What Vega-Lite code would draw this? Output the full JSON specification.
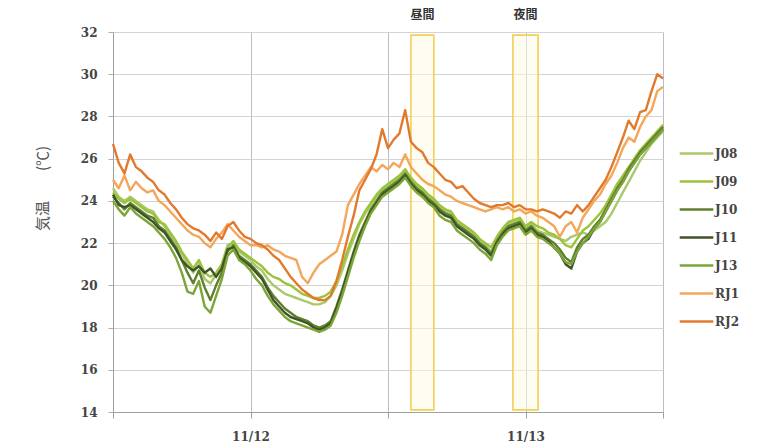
{
  "$schema": "https://vega.github.io/schema/vega-lite/v6.json",
  "width": 550,
  "height": 380,
  "autosize": {"type": "none"},
  "padding": {"left": 113, "top": 32, "right": 112, "bottom": 32},
  "background": "white",
  "config": {
    "view": {"stroke": null},
    "font": "DejaVu Serif",
    "axisX": {
      "grid": true, "gridColor": "#b9bccb", "gridWidth": 1,
      "domainColor": "#a0a0a0", "tickColor": "#a0a0a0", "tickSize": 6,
      "labelFont": "DejaVu Serif", "labelFontSize": 12, "labelFontWeight": "bold", "labelColor": "#444",
      "labelPadding": 13
    },
    "axisY": {
      "titleFont": "Noto Sans CJK JP", "titleFontSize": 15, "titleFontWeight": "normal", "titleColor": "#555",
      "titleX": -63, "titleY": 156,
      "grid": true, "gridColor": "#d3d3d3", "gridWidth": 1,
      "domainColor": "#a0a0a0", "tickColor": "#b0b0b0", "tickSize": 5,
      "labelFont": "DejaVu Serif", "labelFontSize": 12, "labelFontWeight": "bold", "labelColor": "#444",
      "labelPadding": 11
    }
  },
  "layer": [
    {
      "data": {"values": [
        {"start": 26, "end": 28, "mid": 27, "label": "昼間"},
        {"start": 34.9, "end": 37.1, "mid": 36, "label": "夜間"}
      ]},
      "mark": {"type": "rect", "fill": "#fffbe6", "fillOpacity": 0.5, "stroke": "#f3cf55", "strokeWidth": 1.6},
      "encoding": {
        "x": {"field": "start", "type": "quantitative", "title": null, "scale": {"domain": [0, 48], "nice": false, "zero": false},
              "axis": {"values": [0, 12, 24, 36, 48], "labelExpr": "datum.value == 12 ? '11/12' : (datum.value == 36 ? '11/13' : '')"}},
        "x2": {"field": "end"},
        "y": {"datum": 31.85, "type": "quantitative", "title": "気温　　(℃)", "scale": {"domain": [14, 32], "nice": false, "zero": false},
              "axis": {"values": [14, 16, 18, 20, 22, 24, 26, 28, 30, 32]}},
        "y2": {"datum": 14.1}
      }
    },
    {
      "data": {"values": [
        {"start": 26, "end": 28, "mid": 27, "label": "昼間"},
        {"start": 34.9, "end": 37.1, "mid": 36, "label": "夜間"}
      ]},
      "mark": {"type": "text", "font": "Noto Sans CJK JP", "fontSize": 12, "fontWeight": "bold", "color": "#333", "dy": -17, "baseline": "middle"},
      "encoding": {
        "x": {"field": "mid", "type": "quantitative", "title": null,
              "axis": {"values": [0, 12, 24, 36, 48], "labelExpr": "datum.value == 12 ? '11/12' : (datum.value == 36 ? '11/13' : '')"}},
        "y": {"datum": 32, "type": "quantitative", "title": "気温　　(℃)",
              "axis": {"values": [14, 16, 18, 20, 22, 24, 26, 28, 30, 32]}},
        "text": {"field": "label"}
      }
    },
    {
      "data": {"values": [
{"h":0,"s":"J08","v":24.6},{"h":0.5,"s":"J08","v":24.2},{"h":1,"s":"J08","v":24.0},{"h":1.5,"s":"J08","v":24.2},{"h":2,"s":"J08","v":24.0},{"h":2.5,"s":"J08","v":23.8},{"h":3,"s":"J08","v":23.6},{"h":3.5,"s":"J08","v":23.5},{"h":4,"s":"J08","v":23.1},{"h":4.5,"s":"J08","v":22.8},
{"h":5,"s":"J08","v":22.4},{"h":5.5,"s":"J08","v":22.0},{"h":6,"s":"J08","v":21.5},{"h":6.5,"s":"J08","v":21.0},{"h":7,"s":"J08","v":20.6},{"h":7.5,"s":"J08","v":21.0},{"h":8,"s":"J08","v":20.3},{"h":8.5,"s":"J08","v":20.1},{"h":9,"s":"J08","v":20.5},{"h":9.5,"s":"J08","v":21.0},
{"h":10,"s":"J08","v":21.9},{"h":10.5,"s":"J08","v":22.0},{"h":11,"s":"J08","v":21.6},{"h":11.5,"s":"J08","v":21.4},{"h":12,"s":"J08","v":21.2},{"h":12.5,"s":"J08","v":20.9},{"h":13,"s":"J08","v":20.7},{"h":13.5,"s":"J08","v":20.3},{"h":14,"s":"J08","v":20.0},{"h":14.5,"s":"J08","v":19.8},
{"h":15,"s":"J08","v":19.6},{"h":15.5,"s":"J08","v":19.5},{"h":16,"s":"J08","v":19.4},{"h":16.5,"s":"J08","v":19.3},{"h":17,"s":"J08","v":19.2},{"h":17.5,"s":"J08","v":19.1},{"h":18,"s":"J08","v":19.1},{"h":18.5,"s":"J08","v":19.2},{"h":19,"s":"J08","v":19.5},{"h":19.5,"s":"J08","v":20.0},
{"h":20,"s":"J08","v":20.7},{"h":20.5,"s":"J08","v":21.5},{"h":21,"s":"J08","v":22.2},{"h":21.5,"s":"J08","v":22.9},{"h":22,"s":"J08","v":23.4},{"h":22.5,"s":"J08","v":23.8},{"h":23,"s":"J08","v":24.2},{"h":23.5,"s":"J08","v":24.5},{"h":24,"s":"J08","v":24.7},{"h":24.5,"s":"J08","v":24.9},
{"h":25,"s":"J08","v":25.1},{"h":25.5,"s":"J08","v":25.4},{"h":26,"s":"J08","v":25.0},{"h":26.5,"s":"J08","v":24.7},{"h":27,"s":"J08","v":24.5},{"h":27.5,"s":"J08","v":24.2},{"h":28,"s":"J08","v":24.0},{"h":28.5,"s":"J08","v":23.7},{"h":29,"s":"J08","v":23.5},{"h":29.5,"s":"J08","v":23.4},
{"h":30,"s":"J08","v":23.0},{"h":30.5,"s":"J08","v":22.8},{"h":31,"s":"J08","v":22.6},{"h":31.5,"s":"J08","v":22.4},{"h":32,"s":"J08","v":22.1},{"h":32.5,"s":"J08","v":21.9},{"h":33,"s":"J08","v":21.6},{"h":33.5,"s":"J08","v":22.2},{"h":34,"s":"J08","v":22.6},{"h":34.5,"s":"J08","v":22.9},
{"h":35,"s":"J08","v":23.0},{"h":35.5,"s":"J08","v":23.1},{"h":36,"s":"J08","v":22.7},{"h":36.5,"s":"J08","v":22.9},{"h":37,"s":"J08","v":22.6},{"h":37.5,"s":"J08","v":22.5},{"h":38,"s":"J08","v":22.4},{"h":38.5,"s":"J08","v":22.3},{"h":39,"s":"J08","v":22.2},{"h":39.5,"s":"J08","v":22.1},
{"h":40,"s":"J08","v":22.3},{"h":40.5,"s":"J08","v":22.4},{"h":41,"s":"J08","v":22.5},{"h":41.5,"s":"J08","v":22.4},{"h":42,"s":"J08","v":22.6},{"h":42.5,"s":"J08","v":22.8},{"h":43,"s":"J08","v":23.0},{"h":43.5,"s":"J08","v":23.4},{"h":44,"s":"J08","v":23.9},{"h":44.5,"s":"J08","v":24.4},
{"h":45,"s":"J08","v":24.9},{"h":45.5,"s":"J08","v":25.4},{"h":46,"s":"J08","v":25.9},{"h":46.5,"s":"J08","v":26.3},{"h":47,"s":"J08","v":26.7},{"h":47.5,"s":"J08","v":27.0},{"h":48,"s":"J08","v":27.3},

{"h":0,"s":"J09","v":24.4},{"h":0.5,"s":"J09","v":24.1},{"h":1,"s":"J09","v":23.9},{"h":1.5,"s":"J09","v":24.1},{"h":2,"s":"J09","v":23.9},{"h":2.5,"s":"J09","v":23.7},{"h":3,"s":"J09","v":23.5},{"h":3.5,"s":"J09","v":23.4},{"h":4,"s":"J09","v":23.0},{"h":4.5,"s":"J09","v":22.9},
{"h":5,"s":"J09","v":22.5},{"h":5.5,"s":"J09","v":22.1},{"h":6,"s":"J09","v":21.6},{"h":6.5,"s":"J09","v":21.2},{"h":7,"s":"J09","v":20.8},{"h":7.5,"s":"J09","v":21.2},{"h":8,"s":"J09","v":20.6},{"h":8.5,"s":"J09","v":20.4},{"h":9,"s":"J09","v":20.6},{"h":9.5,"s":"J09","v":21.0},
{"h":10,"s":"J09","v":21.8},{"h":10.5,"s":"J09","v":22.1},{"h":11,"s":"J09","v":21.7},{"h":11.5,"s":"J09","v":21.5},{"h":12,"s":"J09","v":21.3},{"h":12.5,"s":"J09","v":21.1},{"h":13,"s":"J09","v":20.9},{"h":13.5,"s":"J09","v":20.6},{"h":14,"s":"J09","v":20.4},{"h":14.5,"s":"J09","v":20.3},
{"h":15,"s":"J09","v":20.1},{"h":15.5,"s":"J09","v":20.0},{"h":16,"s":"J09","v":19.8},{"h":16.5,"s":"J09","v":19.6},{"h":17,"s":"J09","v":19.5},{"h":17.5,"s":"J09","v":19.4},{"h":18,"s":"J09","v":19.4},{"h":18.5,"s":"J09","v":19.5},{"h":19,"s":"J09","v":19.7},{"h":19.5,"s":"J09","v":20.2},
{"h":20,"s":"J09","v":20.9},{"h":20.5,"s":"J09","v":21.7},{"h":21,"s":"J09","v":22.4},{"h":21.5,"s":"J09","v":23.0},{"h":22,"s":"J09","v":23.5},{"h":22.5,"s":"J09","v":23.9},{"h":23,"s":"J09","v":24.3},{"h":23.5,"s":"J09","v":24.6},{"h":24,"s":"J09","v":24.8},{"h":24.5,"s":"J09","v":25.0},
{"h":25,"s":"J09","v":25.2},{"h":25.5,"s":"J09","v":25.5},{"h":26,"s":"J09","v":25.1},{"h":26.5,"s":"J09","v":24.8},{"h":27,"s":"J09","v":24.6},{"h":27.5,"s":"J09","v":24.3},{"h":28,"s":"J09","v":24.1},{"h":28.5,"s":"J09","v":23.8},{"h":29,"s":"J09","v":23.6},{"h":29.5,"s":"J09","v":23.5},
{"h":30,"s":"J09","v":23.1},{"h":30.5,"s":"J09","v":22.9},{"h":31,"s":"J09","v":22.7},{"h":31.5,"s":"J09","v":22.5},{"h":32,"s":"J09","v":22.2},{"h":32.5,"s":"J09","v":22.0},{"h":33,"s":"J09","v":21.8},{"h":33.5,"s":"J09","v":22.3},{"h":34,"s":"J09","v":22.7},{"h":34.5,"s":"J09","v":23.0},
{"h":35,"s":"J09","v":23.1},{"h":35.5,"s":"J09","v":23.2},{"h":36,"s":"J09","v":22.8},{"h":36.5,"s":"J09","v":23.0},{"h":37,"s":"J09","v":22.8},{"h":37.5,"s":"J09","v":22.7},{"h":38,"s":"J09","v":22.5},{"h":38.5,"s":"J09","v":22.4},{"h":39,"s":"J09","v":22.2},{"h":39.5,"s":"J09","v":21.9},
{"h":40,"s":"J09","v":21.8},{"h":40.5,"s":"J09","v":22.2},{"h":41,"s":"J09","v":22.6},{"h":41.5,"s":"J09","v":22.8},{"h":42,"s":"J09","v":23.1},{"h":42.5,"s":"J09","v":23.4},{"h":43,"s":"J09","v":23.8},{"h":43.5,"s":"J09","v":24.3},{"h":44,"s":"J09","v":24.8},{"h":44.5,"s":"J09","v":25.2},
{"h":45,"s":"J09","v":25.6},{"h":45.5,"s":"J09","v":26.0},{"h":46,"s":"J09","v":26.4},{"h":46.5,"s":"J09","v":26.7},{"h":47,"s":"J09","v":27.0},{"h":47.5,"s":"J09","v":27.3},{"h":48,"s":"J09","v":27.6},

{"h":0,"s":"J10","v":24.2},{"h":0.5,"s":"J10","v":23.9},{"h":1,"s":"J10","v":23.6},{"h":1.5,"s":"J10","v":23.9},{"h":2,"s":"J10","v":23.7},{"h":2.5,"s":"J10","v":23.5},{"h":3,"s":"J10","v":23.3},{"h":3.5,"s":"J10","v":23.2},{"h":4,"s":"J10","v":22.8},{"h":4.5,"s":"J10","v":22.6},
{"h":5,"s":"J10","v":22.2},{"h":5.5,"s":"J10","v":21.8},{"h":6,"s":"J10","v":21.2},{"h":6.5,"s":"J10","v":20.6},{"h":7,"s":"J10","v":20.1},{"h":7.5,"s":"J10","v":20.7},{"h":8,"s":"J10","v":19.9},{"h":8.5,"s":"J10","v":19.3},{"h":9,"s":"J10","v":20.0},{"h":9.5,"s":"J10","v":20.6},
{"h":10,"s":"J10","v":21.6},{"h":10.5,"s":"J10","v":21.9},{"h":11,"s":"J10","v":21.4},{"h":11.5,"s":"J10","v":21.2},{"h":12,"s":"J10","v":21.0},{"h":12.5,"s":"J10","v":20.7},{"h":13,"s":"J10","v":20.4},{"h":13.5,"s":"J10","v":19.9},{"h":14,"s":"J10","v":19.5},{"h":14.5,"s":"J10","v":19.2},
{"h":15,"s":"J10","v":18.9},{"h":15.5,"s":"J10","v":18.7},{"h":16,"s":"J10","v":18.5},{"h":16.5,"s":"J10","v":18.4},{"h":17,"s":"J10","v":18.3},{"h":17.5,"s":"J10","v":18.1},{"h":18,"s":"J10","v":18.0},{"h":18.5,"s":"J10","v":18.1},{"h":19,"s":"J10","v":18.3},{"h":19.5,"s":"J10","v":19.0},
{"h":20,"s":"J10","v":19.8},{"h":20.5,"s":"J10","v":20.7},{"h":21,"s":"J10","v":21.6},{"h":21.5,"s":"J10","v":22.4},{"h":22,"s":"J10","v":23.0},{"h":22.5,"s":"J10","v":23.6},{"h":23,"s":"J10","v":24.0},{"h":23.5,"s":"J10","v":24.4},{"h":24,"s":"J10","v":24.6},{"h":24.5,"s":"J10","v":24.8},
{"h":25,"s":"J10","v":25.0},{"h":25.5,"s":"J10","v":25.3},{"h":26,"s":"J10","v":24.9},{"h":26.5,"s":"J10","v":24.6},{"h":27,"s":"J10","v":24.4},{"h":27.5,"s":"J10","v":24.1},{"h":28,"s":"J10","v":23.9},{"h":28.5,"s":"J10","v":23.6},{"h":29,"s":"J10","v":23.4},{"h":29.5,"s":"J10","v":23.3},
{"h":30,"s":"J10","v":22.9},{"h":30.5,"s":"J10","v":22.7},{"h":31,"s":"J10","v":22.5},{"h":31.5,"s":"J10","v":22.3},{"h":32,"s":"J10","v":22.0},{"h":32.5,"s":"J10","v":21.8},{"h":33,"s":"J10","v":21.5},{"h":33.5,"s":"J10","v":22.1},{"h":34,"s":"J10","v":22.5},{"h":34.5,"s":"J10","v":22.8},
{"h":35,"s":"J10","v":22.9},{"h":35.5,"s":"J10","v":23.0},{"h":36,"s":"J10","v":22.6},{"h":36.5,"s":"J10","v":22.8},{"h":37,"s":"J10","v":22.5},{"h":37.5,"s":"J10","v":22.4},{"h":38,"s":"J10","v":22.2},{"h":38.5,"s":"J10","v":22.0},{"h":39,"s":"J10","v":21.7},{"h":39.5,"s":"J10","v":21.3},
{"h":40,"s":"J10","v":21.1},{"h":40.5,"s":"J10","v":21.8},{"h":41,"s":"J10","v":22.2},{"h":41.5,"s":"J10","v":22.4},{"h":42,"s":"J10","v":22.8},{"h":42.5,"s":"J10","v":23.1},{"h":43,"s":"J10","v":23.6},{"h":43.5,"s":"J10","v":24.1},{"h":44,"s":"J10","v":24.6},{"h":44.5,"s":"J10","v":25.0},
{"h":45,"s":"J10","v":25.5},{"h":45.5,"s":"J10","v":25.9},{"h":46,"s":"J10","v":26.3},{"h":46.5,"s":"J10","v":26.6},{"h":47,"s":"J10","v":26.9},{"h":47.5,"s":"J10","v":27.2},{"h":48,"s":"J10","v":27.5},

{"h":0,"s":"J11","v":24.3},{"h":0.5,"s":"J11","v":23.8},{"h":1,"s":"J11","v":23.7},{"h":1.5,"s":"J11","v":23.8},{"h":2,"s":"J11","v":23.6},{"h":2.5,"s":"J11","v":23.4},{"h":3,"s":"J11","v":23.2},{"h":3.5,"s":"J11","v":23.0},{"h":4,"s":"J11","v":22.7},{"h":4.5,"s":"J11","v":22.5},
{"h":5,"s":"J11","v":22.1},{"h":5.5,"s":"J11","v":21.7},{"h":6,"s":"J11","v":21.2},{"h":6.5,"s":"J11","v":20.9},{"h":7,"s":"J11","v":20.7},{"h":7.5,"s":"J11","v":20.9},{"h":8,"s":"J11","v":20.6},{"h":8.5,"s":"J11","v":20.8},{"h":9,"s":"J11","v":20.4},{"h":9.5,"s":"J11","v":20.8},
{"h":10,"s":"J11","v":21.7},{"h":10.5,"s":"J11","v":21.8},{"h":11,"s":"J11","v":21.3},{"h":11.5,"s":"J11","v":21.1},{"h":12,"s":"J11","v":20.9},{"h":12.5,"s":"J11","v":20.6},{"h":13,"s":"J11","v":20.3},{"h":13.5,"s":"J11","v":19.8},{"h":14,"s":"J11","v":19.3},{"h":14.5,"s":"J11","v":19.0},
{"h":15,"s":"J11","v":18.7},{"h":15.5,"s":"J11","v":18.5},{"h":16,"s":"J11","v":18.4},{"h":16.5,"s":"J11","v":18.3},{"h":17,"s":"J11","v":18.2},{"h":17.5,"s":"J11","v":18.0},{"h":18,"s":"J11","v":17.9},{"h":18.5,"s":"J11","v":18.0},{"h":19,"s":"J11","v":18.2},{"h":19.5,"s":"J11","v":18.9},
{"h":20,"s":"J11","v":19.7},{"h":20.5,"s":"J11","v":20.6},{"h":21,"s":"J11","v":21.5},{"h":21.5,"s":"J11","v":22.3},{"h":22,"s":"J11","v":22.9},{"h":22.5,"s":"J11","v":23.5},{"h":23,"s":"J11","v":23.9},{"h":23.5,"s":"J11","v":24.3},{"h":24,"s":"J11","v":24.5},{"h":24.5,"s":"J11","v":24.7},
{"h":25,"s":"J11","v":24.9},{"h":25.5,"s":"J11","v":25.2},{"h":26,"s":"J11","v":24.8},{"h":26.5,"s":"J11","v":24.5},{"h":27,"s":"J11","v":24.3},{"h":27.5,"s":"J11","v":24.0},{"h":28,"s":"J11","v":23.8},{"h":28.5,"s":"J11","v":23.5},{"h":29,"s":"J11","v":23.3},{"h":29.5,"s":"J11","v":23.2},
{"h":30,"s":"J11","v":22.8},{"h":30.5,"s":"J11","v":22.6},{"h":31,"s":"J11","v":22.4},{"h":31.5,"s":"J11","v":22.2},{"h":32,"s":"J11","v":21.9},{"h":32.5,"s":"J11","v":21.7},{"h":33,"s":"J11","v":21.4},{"h":33.5,"s":"J11","v":22.0},{"h":34,"s":"J11","v":22.4},{"h":34.5,"s":"J11","v":22.7},
{"h":35,"s":"J11","v":22.8},{"h":35.5,"s":"J11","v":22.9},{"h":36,"s":"J11","v":22.5},{"h":36.5,"s":"J11","v":22.7},{"h":37,"s":"J11","v":22.4},{"h":37.5,"s":"J11","v":22.3},{"h":38,"s":"J11","v":22.1},{"h":38.5,"s":"J11","v":21.8},{"h":39,"s":"J11","v":21.5},{"h":39.5,"s":"J11","v":21.0},
{"h":40,"s":"J11","v":20.8},{"h":40.5,"s":"J11","v":21.6},{"h":41,"s":"J11","v":22.0},{"h":41.5,"s":"J11","v":22.2},{"h":42,"s":"J11","v":22.7},{"h":42.5,"s":"J11","v":23.0},{"h":43,"s":"J11","v":23.5},{"h":43.5,"s":"J11","v":24.0},{"h":44,"s":"J11","v":24.5},{"h":44.5,"s":"J11","v":24.9},
{"h":45,"s":"J11","v":25.4},{"h":45.5,"s":"J11","v":25.8},{"h":46,"s":"J11","v":26.2},{"h":46.5,"s":"J11","v":26.5},{"h":47,"s":"J11","v":26.8},{"h":47.5,"s":"J11","v":27.1},{"h":48,"s":"J11","v":27.4},

{"h":0,"s":"J13","v":24.0},{"h":0.5,"s":"J13","v":23.6},{"h":1,"s":"J13","v":23.3},{"h":1.5,"s":"J13","v":23.7},{"h":2,"s":"J13","v":23.4},{"h":2.5,"s":"J13","v":23.2},{"h":3,"s":"J13","v":23.0},{"h":3.5,"s":"J13","v":22.8},{"h":4,"s":"J13","v":22.5},{"h":4.5,"s":"J13","v":22.2},
{"h":5,"s":"J13","v":21.8},{"h":5.5,"s":"J13","v":21.3},{"h":6,"s":"J13","v":20.6},{"h":6.5,"s":"J13","v":19.7},{"h":7,"s":"J13","v":19.6},{"h":7.5,"s":"J13","v":20.2},{"h":8,"s":"J13","v":19.0},{"h":8.5,"s":"J13","v":18.7},{"h":9,"s":"J13","v":19.5},{"h":9.5,"s":"J13","v":20.3},
{"h":10,"s":"J13","v":21.4},{"h":10.5,"s":"J13","v":21.7},{"h":11,"s":"J13","v":21.2},{"h":11.5,"s":"J13","v":21.0},{"h":12,"s":"J13","v":20.7},{"h":12.5,"s":"J13","v":20.3},{"h":13,"s":"J13","v":20.0},{"h":13.5,"s":"J13","v":19.5},{"h":14,"s":"J13","v":19.1},{"h":14.5,"s":"J13","v":18.8},
{"h":15,"s":"J13","v":18.5},{"h":15.5,"s":"J13","v":18.3},{"h":16,"s":"J13","v":18.2},{"h":16.5,"s":"J13","v":18.1},{"h":17,"s":"J13","v":18.0},{"h":17.5,"s":"J13","v":17.9},{"h":18,"s":"J13","v":17.8},{"h":18.5,"s":"J13","v":17.9},{"h":19,"s":"J13","v":18.1},{"h":19.5,"s":"J13","v":18.7},
{"h":20,"s":"J13","v":19.5},{"h":20.5,"s":"J13","v":20.4},{"h":21,"s":"J13","v":21.3},{"h":21.5,"s":"J13","v":22.1},{"h":22,"s":"J13","v":22.8},{"h":22.5,"s":"J13","v":23.4},{"h":23,"s":"J13","v":23.8},{"h":23.5,"s":"J13","v":24.2},{"h":24,"s":"J13","v":24.4},{"h":24.5,"s":"J13","v":24.6},
{"h":25,"s":"J13","v":24.8},{"h":25.5,"s":"J13","v":25.1},{"h":26,"s":"J13","v":24.7},{"h":26.5,"s":"J13","v":24.4},{"h":27,"s":"J13","v":24.2},{"h":27.5,"s":"J13","v":23.9},{"h":28,"s":"J13","v":23.7},{"h":28.5,"s":"J13","v":23.3},{"h":29,"s":"J13","v":23.1},{"h":29.5,"s":"J13","v":23.0},
{"h":30,"s":"J13","v":22.6},{"h":30.5,"s":"J13","v":22.4},{"h":31,"s":"J13","v":22.2},{"h":31.5,"s":"J13","v":22.0},{"h":32,"s":"J13","v":21.7},{"h":32.5,"s":"J13","v":21.5},{"h":33,"s":"J13","v":21.2},{"h":33.5,"s":"J13","v":21.9},{"h":34,"s":"J13","v":22.3},{"h":34.5,"s":"J13","v":22.6},
{"h":35,"s":"J13","v":22.7},{"h":35.5,"s":"J13","v":22.8},{"h":36,"s":"J13","v":22.4},{"h":36.5,"s":"J13","v":22.6},{"h":37,"s":"J13","v":22.3},{"h":37.5,"s":"J13","v":22.2},{"h":38,"s":"J13","v":22.0},{"h":38.5,"s":"J13","v":21.8},{"h":39,"s":"J13","v":21.5},{"h":39.5,"s":"J13","v":21.1},
{"h":40,"s":"J13","v":21.0},{"h":40.5,"s":"J13","v":21.6},{"h":41,"s":"J13","v":22.0},{"h":41.5,"s":"J13","v":22.3},{"h":42,"s":"J13","v":22.7},{"h":42.5,"s":"J13","v":23.0},{"h":43,"s":"J13","v":23.5},{"h":43.5,"s":"J13","v":24.0},{"h":44,"s":"J13","v":24.5},{"h":44.5,"s":"J13","v":24.9},
{"h":45,"s":"J13","v":25.4},{"h":45.5,"s":"J13","v":25.8},{"h":46,"s":"J13","v":26.2},{"h":46.5,"s":"J13","v":26.5},{"h":47,"s":"J13","v":26.8},{"h":47.5,"s":"J13","v":27.1},{"h":48,"s":"J13","v":27.4},

{"h":0,"s":"RJ1","v":25.0},{"h":0.5,"s":"RJ1","v":24.6},{"h":1,"s":"RJ1","v":25.2},{"h":1.5,"s":"RJ1","v":24.5},{"h":2,"s":"RJ1","v":24.9},{"h":2.5,"s":"RJ1","v":24.6},{"h":3,"s":"RJ1","v":24.4},{"h":3.5,"s":"RJ1","v":24.5},{"h":4,"s":"RJ1","v":24.0},{"h":4.5,"s":"RJ1","v":23.8},
{"h":5,"s":"RJ1","v":23.5},{"h":5.5,"s":"RJ1","v":23.2},{"h":6,"s":"RJ1","v":22.9},{"h":6.5,"s":"RJ1","v":22.6},{"h":7,"s":"RJ1","v":22.4},{"h":7.5,"s":"RJ1","v":22.3},{"h":8,"s":"RJ1","v":22.0},{"h":8.5,"s":"RJ1","v":21.8},{"h":9,"s":"RJ1","v":22.2},{"h":9.5,"s":"RJ1","v":22.5},
{"h":10,"s":"RJ1","v":22.9},{"h":10.5,"s":"RJ1","v":22.6},{"h":11,"s":"RJ1","v":22.3},{"h":11.5,"s":"RJ1","v":22.1},{"h":12,"s":"RJ1","v":21.9},{"h":12.5,"s":"RJ1","v":21.9},{"h":13,"s":"RJ1","v":21.8},{"h":13.5,"s":"RJ1","v":21.9},{"h":14,"s":"RJ1","v":21.7},{"h":14.5,"s":"RJ1","v":21.6},
{"h":15,"s":"RJ1","v":21.4},{"h":15.5,"s":"RJ1","v":21.3},{"h":16,"s":"RJ1","v":21.2},{"h":16.5,"s":"RJ1","v":20.4},{"h":17,"s":"RJ1","v":20.1},{"h":17.5,"s":"RJ1","v":20.6},{"h":18,"s":"RJ1","v":21.0},{"h":18.5,"s":"RJ1","v":21.2},{"h":19,"s":"RJ1","v":21.4},{"h":19.5,"s":"RJ1","v":21.6},
{"h":20,"s":"RJ1","v":22.4},{"h":20.5,"s":"RJ1","v":23.8},{"h":21,"s":"RJ1","v":24.3},{"h":21.5,"s":"RJ1","v":24.8},{"h":22,"s":"RJ1","v":25.2},{"h":22.5,"s":"RJ1","v":25.6},{"h":23,"s":"RJ1","v":25.4},{"h":23.5,"s":"RJ1","v":25.7},{"h":24,"s":"RJ1","v":25.5},{"h":24.5,"s":"RJ1","v":25.8},
{"h":25,"s":"RJ1","v":25.6},{"h":25.5,"s":"RJ1","v":26.2},{"h":26,"s":"RJ1","v":25.6},{"h":26.5,"s":"RJ1","v":25.3},{"h":27,"s":"RJ1","v":25.0},{"h":27.5,"s":"RJ1","v":24.8},{"h":28,"s":"RJ1","v":24.7},{"h":28.5,"s":"RJ1","v":24.5},{"h":29,"s":"RJ1","v":24.3},{"h":29.5,"s":"RJ1","v":24.2},
{"h":30,"s":"RJ1","v":24.0},{"h":30.5,"s":"RJ1","v":23.9},{"h":31,"s":"RJ1","v":23.8},{"h":31.5,"s":"RJ1","v":23.7},{"h":32,"s":"RJ1","v":23.6},{"h":32.5,"s":"RJ1","v":23.5},{"h":33,"s":"RJ1","v":23.6},{"h":33.5,"s":"RJ1","v":23.7},{"h":34,"s":"RJ1","v":23.6},{"h":34.5,"s":"RJ1","v":23.7},
{"h":35,"s":"RJ1","v":23.5},{"h":35.5,"s":"RJ1","v":23.6},{"h":36,"s":"RJ1","v":23.4},{"h":36.5,"s":"RJ1","v":23.5},{"h":37,"s":"RJ1","v":23.3},{"h":37.5,"s":"RJ1","v":23.2},{"h":38,"s":"RJ1","v":23.0},{"h":38.5,"s":"RJ1","v":22.8},{"h":39,"s":"RJ1","v":22.3},{"h":39.5,"s":"RJ1","v":22.8},
{"h":40,"s":"RJ1","v":23.0},{"h":40.5,"s":"RJ1","v":22.5},{"h":41,"s":"RJ1","v":23.2},{"h":41.5,"s":"RJ1","v":23.6},{"h":42,"s":"RJ1","v":24.0},{"h":42.5,"s":"RJ1","v":24.3},{"h":43,"s":"RJ1","v":24.8},{"h":43.5,"s":"RJ1","v":25.2},{"h":44,"s":"RJ1","v":25.8},{"h":44.5,"s":"RJ1","v":26.5},
{"h":45,"s":"RJ1","v":27.0},{"h":45.5,"s":"RJ1","v":26.8},{"h":46,"s":"RJ1","v":27.5},{"h":46.5,"s":"RJ1","v":28.0},{"h":47,"s":"RJ1","v":28.3},{"h":47.5,"s":"RJ1","v":29.2},{"h":48,"s":"RJ1","v":29.4},

{"h":0,"s":"RJ2","v":26.7},{"h":0.5,"s":"RJ2","v":25.8},{"h":1,"s":"RJ2","v":25.3},{"h":1.5,"s":"RJ2","v":26.2},{"h":2,"s":"RJ2","v":25.6},{"h":2.5,"s":"RJ2","v":25.4},{"h":3,"s":"RJ2","v":25.1},{"h":3.5,"s":"RJ2","v":24.9},{"h":4,"s":"RJ2","v":24.5},{"h":4.5,"s":"RJ2","v":24.3},
{"h":5,"s":"RJ2","v":23.9},{"h":5.5,"s":"RJ2","v":23.6},{"h":6,"s":"RJ2","v":23.2},{"h":6.5,"s":"RJ2","v":22.9},{"h":7,"s":"RJ2","v":22.7},{"h":7.5,"s":"RJ2","v":22.6},{"h":8,"s":"RJ2","v":22.4},{"h":8.5,"s":"RJ2","v":22.1},{"h":9,"s":"RJ2","v":22.5},{"h":9.5,"s":"RJ2","v":22.2},
{"h":10,"s":"RJ2","v":22.8},{"h":10.5,"s":"RJ2","v":23.0},{"h":11,"s":"RJ2","v":22.6},{"h":11.5,"s":"RJ2","v":22.3},{"h":12,"s":"RJ2","v":22.2},{"h":12.5,"s":"RJ2","v":22.0},{"h":13,"s":"RJ2","v":21.9},{"h":13.5,"s":"RJ2","v":21.7},{"h":14,"s":"RJ2","v":21.4},{"h":14.5,"s":"RJ2","v":21.2},
{"h":15,"s":"RJ2","v":20.8},{"h":15.5,"s":"RJ2","v":20.4},{"h":16,"s":"RJ2","v":20.1},{"h":16.5,"s":"RJ2","v":19.8},{"h":17,"s":"RJ2","v":19.6},{"h":17.5,"s":"RJ2","v":19.4},{"h":18,"s":"RJ2","v":19.3},{"h":18.5,"s":"RJ2","v":19.3},{"h":19,"s":"RJ2","v":19.5},{"h":19.5,"s":"RJ2","v":20.2},
{"h":20,"s":"RJ2","v":21.2},{"h":20.5,"s":"RJ2","v":22.3},{"h":21,"s":"RJ2","v":23.3},{"h":21.5,"s":"RJ2","v":24.5},{"h":22,"s":"RJ2","v":25.0},{"h":22.5,"s":"RJ2","v":25.5},{"h":23,"s":"RJ2","v":26.2},{"h":23.5,"s":"RJ2","v":27.4},{"h":24,"s":"RJ2","v":26.5},{"h":24.5,"s":"RJ2","v":26.9},
{"h":25,"s":"RJ2","v":27.2},{"h":25.5,"s":"RJ2","v":28.3},{"h":26,"s":"RJ2","v":26.8},{"h":26.5,"s":"RJ2","v":26.5},{"h":27,"s":"RJ2","v":26.3},{"h":27.5,"s":"RJ2","v":25.8},{"h":28,"s":"RJ2","v":25.6},{"h":28.5,"s":"RJ2","v":25.3},{"h":29,"s":"RJ2","v":25.0},{"h":29.5,"s":"RJ2","v":24.9},
{"h":30,"s":"RJ2","v":24.6},{"h":30.5,"s":"RJ2","v":24.7},{"h":31,"s":"RJ2","v":24.4},{"h":31.5,"s":"RJ2","v":24.1},{"h":32,"s":"RJ2","v":23.9},{"h":32.5,"s":"RJ2","v":23.8},{"h":33,"s":"RJ2","v":23.7},{"h":33.5,"s":"RJ2","v":23.8},{"h":34,"s":"RJ2","v":23.8},{"h":34.5,"s":"RJ2","v":23.9},
{"h":35,"s":"RJ2","v":23.7},{"h":35.5,"s":"RJ2","v":23.8},{"h":36,"s":"RJ2","v":23.6},{"h":36.5,"s":"RJ2","v":23.6},{"h":37,"s":"RJ2","v":23.5},{"h":37.5,"s":"RJ2","v":23.6},{"h":38,"s":"RJ2","v":23.5},{"h":38.5,"s":"RJ2","v":23.4},{"h":39,"s":"RJ2","v":23.2},{"h":39.5,"s":"RJ2","v":23.5},
{"h":40,"s":"RJ2","v":23.4},{"h":40.5,"s":"RJ2","v":23.8},{"h":41,"s":"RJ2","v":23.5},{"h":41.5,"s":"RJ2","v":23.8},{"h":42,"s":"RJ2","v":24.2},{"h":42.5,"s":"RJ2","v":24.6},{"h":43,"s":"RJ2","v":25.0},{"h":43.5,"s":"RJ2","v":25.6},{"h":44,"s":"RJ2","v":26.3},{"h":44.5,"s":"RJ2","v":27.0},
{"h":45,"s":"RJ2","v":27.8},{"h":45.5,"s":"RJ2","v":27.4},{"h":46,"s":"RJ2","v":28.2},{"h":46.5,"s":"RJ2","v":28.3},{"h":47,"s":"RJ2","v":29.2},{"h":47.5,"s":"RJ2","v":30.0},{"h":48,"s":"RJ2","v":29.8}
      ]},
      "mark": {"type": "line", "strokeWidth": 2.4, "strokeJoin": "round"},
      "encoding": {
        "x": {"field": "h", "type": "quantitative", "title": null, "scale": {"domain": [0, 48], "nice": false, "zero": false},
              "axis": {"values": [0, 12, 24, 36, 48], "labelExpr": "datum.value == 12 ? '11/12' : (datum.value == 36 ? '11/13' : '')"}},
        "y": {"field": "v", "type": "quantitative", "title": "気温　　(℃)", "scale": {"domain": [14, 32], "nice": false, "zero": false},
              "axis": {"values": [14, 16, 18, 20, 22, 24, 26, 28, 30, 32]}},
        "color": {
          "field": "s", "type": "nominal",
          "scale": {
            "domain": ["J08", "J09", "J10", "J11", "J13", "RJ1", "RJ2"],
            "range": ["#a9c96b", "#9cc33b", "#5f7f2d", "#3f5529", "#7ba536", "#f4a65a", "#e27a2e"]
          },
          "legend": {
            "title": null,
            "orient": "none", "legendX": 568, "legendY": 106,
            "symbolType": "M-1.2,0H1.2", "symbolSize": 784, "symbolStrokeWidth": 2.5,
            "rowPadding": 6, "labelOffset": 3,
            "labelFont": "DejaVu Serif", "labelFontSize": 12, "labelFontWeight": "bold", "labelColor": "#444"
          }
        }
      }
    }
  ]
}
